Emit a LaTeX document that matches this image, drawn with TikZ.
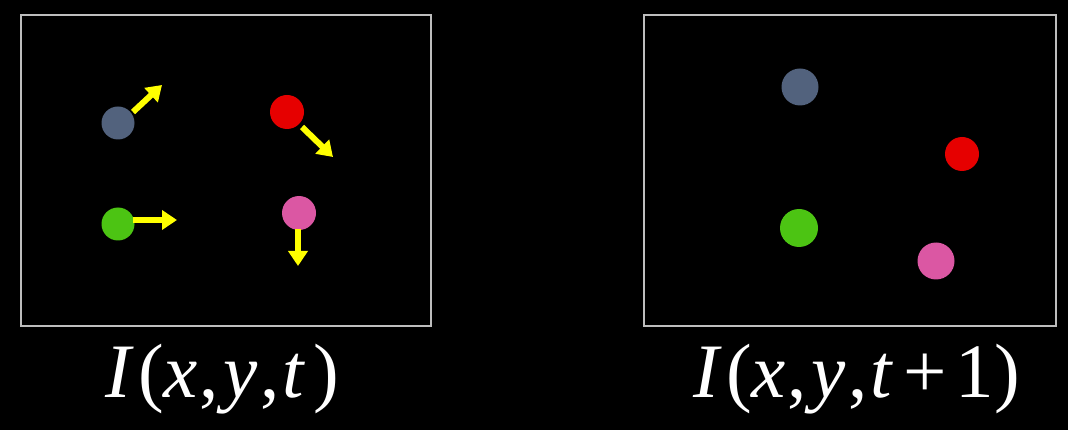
\documentclass[tikz,border=0pt]{standalone}
\usepackage{fontspec}
\setmainfont{Liberation Serif}
\usetikzlibrary{arrows.meta}
\definecolor{dblue}{HTML}{52627D}
\definecolor{dred}{HTML}{E60000}
\definecolor{dgreen}{HTML}{4CC413}
\definecolor{dpink}{HTML}{DB57A3}
\definecolor{framegray}{HTML}{BDBDBD}
\definecolor{vyellow}{HTML}{FFFF00}
\begin{document}
\begin{tikzpicture}[x=1pt,y=-1pt,
  frame/.style={draw=framegray,line width=1.6pt},
  dot/.style={circle,inner sep=0pt,minimum size=#1},
  vel/.style={draw=vyellow,line width=6pt,-{Triangle[width=19pt,length=15pt]}},
  eqlabel/.style={text=white,font=\fontsize{77}{85}\selectfont,inner sep=0pt,anchor=base west}]
\fill[black] (0,0) rectangle (1068,430);
\useasboundingbox (0,0) rectangle (1068,430);
% frames
\node[frame,minimum width=410pt,minimum height=311pt,inner sep=0pt] (leftframe) at (226,170.5) {};
\node[frame,minimum width=412pt,minimum height=311pt,inner sep=0pt] (rightframe) at (850,170.5) {};
% left dots
\node[dot=33pt,fill=dblue] (lb) at (118,123) {};
\node[dot=34pt,fill=dred] (lr) at (287,112) {};
\node[dot=33pt,fill=dgreen] (lg) at (118,224) {};
\node[dot=34pt,fill=dpink] (lp) at (299,213) {};
% arrow ends
\coordinate (sb) at (133,112);
\coordinate (tb) at (162,85);
\coordinate (sr) at (302,127);
\coordinate (tr) at (333,157);
\coordinate (sg) at (133,220);
\coordinate (tg) at (177,220);
\coordinate (sp) at (298,229);
\coordinate (tp) at (298,266);
\draw[vel] (sb) -- (tb);
\draw[vel] (sr) -- (tr);
\draw[vel] (sg) -- (tg);
\draw[vel] (sp) -- (tp);
% right dots
\node[dot=37pt,fill=dblue] (rb) at (800,87) {};
\node[dot=34pt,fill=dred] (rr) at (962,154) {};
\node[dot=38pt,fill=dgreen] (rg) at (799,228) {};
\node[dot=37pt,fill=dpink] (rp) at (936,261) {};
% labels
\node[eqlabel] (leq) at (105,397) {\textit{I}\kern5pt(\kern-1pt\textit{x}\kern2pt,\kern5pt\textit{y}\kern2pt,\kern3pt\textit{t}\kern8pt)};
\node[eqlabel] (req) at (693,397) {\textit{I}\kern5pt(\kern-1pt\textit{x}\kern2pt,\kern5pt\textit{y}\kern2pt,\kern3pt\textit{t}\kern10pt+\kern9pt1\kern0pt)};
\end{tikzpicture}
\end{document}
